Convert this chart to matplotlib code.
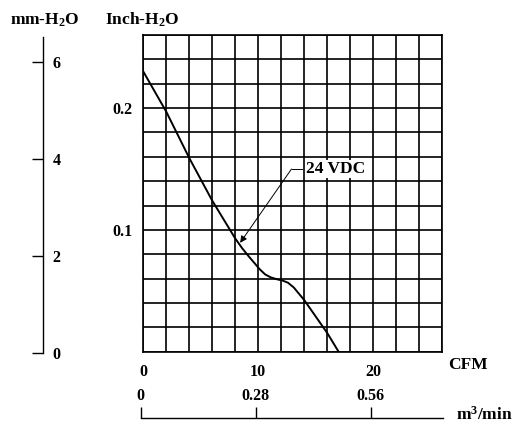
import numpy as np
import matplotlib.pyplot as plt

plt.rcParams['font.family'] = ['Liberation Serif', 'DejaVu Serif']
plt.rcParams['font.weight'] = 'bold'
plt.rcParams['mathtext.fontset'] = 'custom'
plt.rcParams['mathtext.rm'] = 'Liberation Serif:bold'
plt.rcParams['mathtext.it'] = 'Liberation Serif:bold'
plt.rcParams['mathtext.default'] = 'regular'

# 24 VDC curve
cfm = [0, 2, 4, 6, 8, 8.6, 9.2, 9.7, 10.1, 10.6, 11.1, 11.7, 12.1, 12.6,
       13.1, 13.6, 14.0, 15.0, 16.0, 17.0]
inch_h2o = [0.230, 0.197, 0.159, 0.124, 0.093, 0.085, 0.078, 0.0725, 0.068, 0.0635,
            0.061, 0.0593, 0.0585, 0.0566, 0.0527, 0.047, 0.0425, 0.029, 0.0155, 0.0]

cfm_max = 26
inch_max = 0.26
mm_max = 6.52
cfm_labels = [0, 10, 20]
inch_labels = [0.1, 0.2]
mm_labels = [0, 2, 4, 6]
m3_labels = [0, 0.28, 0.56]

W, H = 523, 438
fig = plt.figure(figsize=(W / 100, H / 100), dpi=100)

x0, x1, y0, y1 = 143.3, 442, 35, 351.7
ax = fig.add_axes([x0 / W, 1 - y1 / H, (x1 - x0) / W, (y1 - y0) / H])
ax.plot(cfm, inch_h2o, color='black', lw=1.4, zorder=3)
ax.set_xlim(0, cfm_max)
ax.set_ylim(0, inch_max)
ax.set_xticks(cfm_labels)
ax.set_xticklabels([str(v) for v in cfm_labels])
ax.set_yticks(inch_labels)
ax.set_yticklabels([str(v) for v in inch_labels])
ax.set_xticks(np.arange(0, cfm_max + 1, 2), minor=True)
ax.set_yticks(np.arange(0, inch_max + 0.001, 0.02), minor=True)
ax.grid(True, which='both', color='black', lw=1.2)
ax.tick_params(which='both', length=0)
ax.tick_params(axis='x', pad=9, labelsize=11.5)
ax.tick_params(axis='y', pad=8, labelsize=11.5)
for s in ax.spines.values():
    s.set_linewidth(1.2)

# annotation 24 VDC
ax.plot([12.9, 13.8], [0.150, 0.150], color='black', lw=0.7, zorder=4)
ax.annotate('', xy=(8.43, 0.0894), xytext=(12.9, 0.150),
            arrowprops=dict(arrowstyle='-|>', color='black', lw=0.7,
                            shrinkA=0, shrinkB=0, mutation_scale=10), zorder=4)
ax.text(14.2, 0.150, '24 VDC', fontsize=12.5, va='center', ha='left',
        bbox=dict(facecolor='white', edgecolor='none', pad=0.5), zorder=4)

fig.text(488 / W, 1 - 365 / H, 'CFM', fontsize=12.5, ha='right', va='center')

# mm-H2O scale
mx = 42.7
axm = fig.add_axes([mx / W, 1 - 353 / H, 0.0001, (353 - 36.7) / H])
axm.set_ylim(0, mm_max)
axm.set_yticks(mm_labels)
axm.set_yticklabels([str(v) for v in mm_labels])
axm.set_xticks([])
for k in ['top', 'right', 'bottom']:
    axm.spines[k].set_visible(False)
axm.spines['left'].set_linewidth(1.0)
axm.patch.set_visible(False)
axm.tick_params(axis='y', left=True, right=False, labelleft=False, labelright=True,
                direction='out', length=8, width=1.0, pad=-0.8, labelsize=11.5)

# m3/min scale
my = 418.3
axv = fig.add_axes([140.5 / W, 1 - my / H, (443 - 140.5) / W, 0.0001])
axv.set_xlim(0, cfm_max * 0.0283168)
axv.set_xticks(m3_labels)
axv.set_xticklabels([str(v) for v in m3_labels])
axv.set_yticks([])
for k in ['left', 'right', 'bottom']:
    axv.spines[k].set_visible(False)
axv.spines['top'].set_linewidth(1.0)
axv.patch.set_visible(False)
axv.tick_params(axis='x', top=True, bottom=False, labeltop=True, labelbottom=False,
                direction='out', length=8, width=1.0, pad=2, labelsize=11.5)

fig.text(456 / W, 1 - 415 / H, 'm$^3$/min', fontsize=12.5, ha='left', va='center')

fig.text(45 / W, 1 - 20 / H, 'mm-H$_2$O', fontsize=12.5, ha='center', va='center')
fig.text(105 / W, 1 - 20 / H, 'Inch-H$_2$O', fontsize=12.5, ha='left', va='center')

fig.savefig('out.png', dpi=100)
